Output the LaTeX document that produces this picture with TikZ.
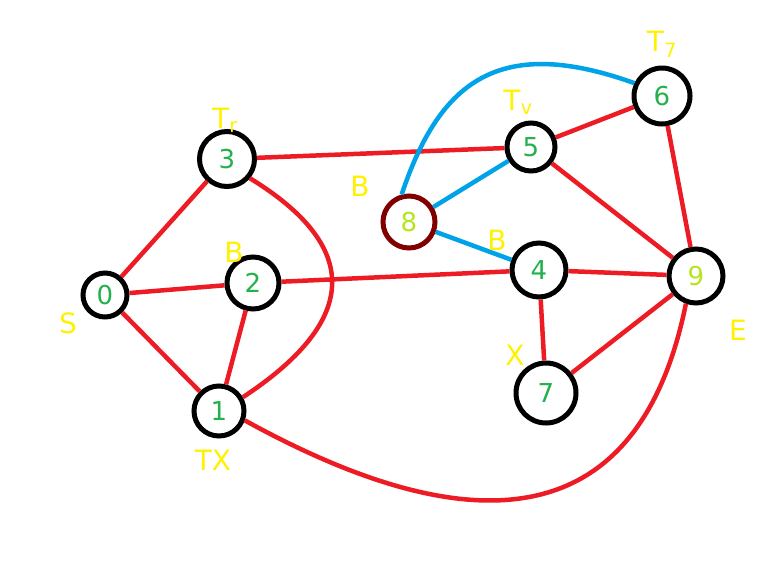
\documentclass[tikz,border=0pt]{standalone}
\usepackage{fontspec}
\setmainfont{DejaVu Sans}
\definecolor{rd}{HTML}{ED1C24}
\definecolor{bl}{HTML}{00A2E8}
\definecolor{gr}{HTML}{22B14C}
\definecolor{lm}{HTML}{B5E61D}
\definecolor{yl}{HTML}{FFF200}
\definecolor{dr}{HTML}{800000}
\begin{document}
\begin{tikzpicture}[x=1pt,y=-1pt,
  vtx/.style={circle,draw=black,line width=5pt,fill=white,inner sep=0pt,text=gr,font=\fontsize{26}{26}\selectfont},
  redge/.style={rd,line width=4.5pt},
  bedge/.style={bl,line width=4.5pt},
  lbl/.style={text=yl,font=\fontsize{28}{28}\selectfont}]
\useasboundingbox (0,0) rectangle (757,571);
\coordinate (c0) at (105,295);
\coordinate (c3) at (227,159);
\coordinate (c2) at (253,283);
\coordinate (c1) at (219,411);
\coordinate (c8) at (409,222);
\coordinate (c5) at (531,147);
\coordinate (c6) at (662,96);
\coordinate (c4) at (539,270);
\coordinate (c9) at (696,276);
\coordinate (c7) at (546,393);
\node[vtx,minimum size=44pt] (n0) at (c0) {0};
\node[vtx,minimum size=55pt] (n3) at (c3) {3};
\node[vtx,minimum size=52pt] (n2) at (c2) {2};
\node[vtx,minimum size=50pt] (n1) at (c1) {1};
\node[vtx,minimum size=52pt,draw=dr,text=lm] (n8) at (c8) {8};
\node[vtx,minimum size=48pt] (n5) at (c5) {5};
\node[vtx,minimum size=56pt] (n6) at (c6) {6};
\node[vtx,minimum size=54pt] (n4) at (c4) {4};
\node[vtx,minimum size=54pt,text=lm] (n9) at (c9) {9};
\node[vtx,minimum size=60pt] (n7) at (c7) {7};
\draw[redge] (n0) -- (n3);
\draw[redge] (n0) -- (n2);
\draw[redge] (n0) -- (n1);
\draw[redge] (n2) -- (n1);
\draw[redge] (n3.-40) .. controls (375,255) and (345,330) .. (n1.30);
\draw[redge] (n3) -- (n5);
\draw[redge] (n2) -- (n4);
\draw[redge] (n5) -- (n6);
\draw[redge] (n5) -- (n9);
\draw[redge] (n6) -- (n9);
\draw[redge] (n4) -- (n9);
\draw[redge] (n4) -- (n7);
\draw[redge] (n7) -- (n9);
\draw[redge] (n1.-20) .. controls (480,550) and (640,530) .. (n9.-110);
\draw[bedge] (n8.105) .. controls (440,80) and (500,35) .. (n6.155);
\draw[bedge] (n8) -- (n5);
\draw[bedge] (n8) -- (n4);
\node[lbl] (l0) at (68,323) {S};
\node[lbl] (l3) at (225,120) {T\textsubscript{r}};
\node[lbl] (l2) at (234,252) {B};
\node[lbl] (l1) at (213,460) {TX};
\node[lbl] (l8) at (360,186) {B};
\node[lbl] (l5) at (518,102) {T\textsubscript{v}};
\node[lbl] (l6) at (662,44) {T\textsubscript{7}};
\node[lbl] (l4) at (497,240) {B};
\node[lbl] (l7) at (515,355) {X};
\node[lbl] (l9) at (738,330) {E};
\end{tikzpicture}
\end{document}
